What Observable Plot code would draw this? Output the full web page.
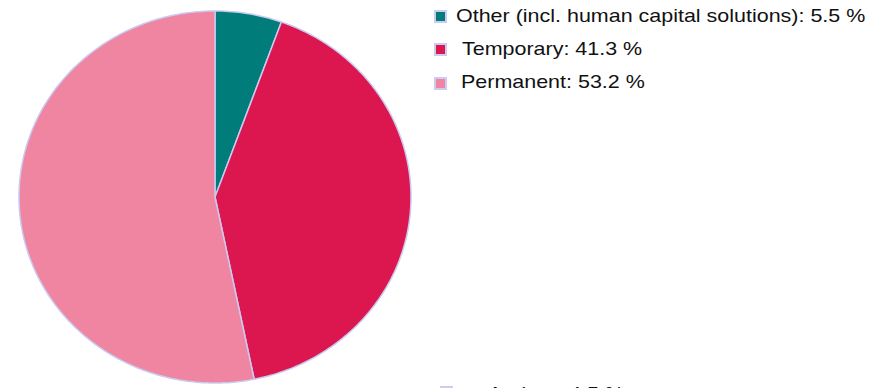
<!DOCTYPE html>
<html>
<head>
<meta charset="utf-8">
<script src="https://cdn.jsdelivr.net/npm/d3@7"></script>
<script src="https://cdn.jsdelivr.net/npm/@observablehq/plot@0.6"></script>
<style>
  html, body { margin: 0; padding: 0; background: #fff; overflow: hidden; }
  #wrap { position: relative; width: 886px; height: 388px; overflow: hidden; }
  #legend { position: absolute; left: 0; top: 0; font-family: "Liberation Sans", Arial, sans-serif; font-size: 19px; color: #111; }
  .item { position: absolute; white-space: nowrap; line-height: 20px; transform: scaleX(1.13); transform-origin: 0 50%; }
  .sw { position: absolute; width: 9px; height: 9px; border: 2px solid #cbcbf3; }
</style>
</head>
<body>
<div id="wrap"><div id="chart"></div><div id="legend"></div></div>
<script>
const labels = ["Other (incl. human capital solutions)", "Temporary", "Permanent"];
const shares = [5.5, 41.3, 53.2];
const colors = ["#007c7b", "#dc1750", "#ef85a1"];
const extraLabel = "Andere";
const extraShare = 4.5;

// build slice outlines (unit circle, clockwise from 12 o'clock)
const pts = [];
let cum = 0;
const total = d3.sum(shares);
labels.forEach((lab, i) => {
  const a0 = cum / total * 2 * Math.PI;
  cum += shares[i];
  const a1 = cum / total * 2 * Math.PI;
  const n = Math.max(2, Math.ceil((a1 - a0) / (Math.PI / 180)));
  for (let k = 0; k <= n; k++) {
    const a = a0 + (a1 - a0) * k / n;
    pts.push({label: lab, x: Math.sin(a), y: Math.cos(a)});
  }
});

const chart = Plot.plot({
  width: 886,
  height: 388,
  margin: 0,
  x: {domain: [-1, 1], range: [19, 411], axis: null},
  y: {domain: [-1, 1], range: [383, 11], axis: null},
  color: {domain: labels, range: colors},
  style: {background: "#fff"},
  marks: [
    Plot.area(pts, {x1: () => 0, y1: () => 0, x2: "x", y2: "y", z: "label", fill: "label", stroke: "#c9c9f2", strokeWidth: 1.5, curve: "linear"})
  ]
});
document.getElementById("chart").appendChild(chart);

const legend = document.getElementById("legend");
const items = [
  {text: `${labels[0]}: ${shares[0]} %`, color: colors[0], sx: 434, sy: 10, tx: 456, ty: 6},
  {text: `${labels[1]}: ${shares[1]} %`, color: colors[1], sx: 434, sy: 43, tx: 462, ty: 39},
  {text: `${labels[2]}: ${shares[2]} %`, color: colors[2], sx: 434, sy: 77, tx: 461, ty: 72},
  {text: `${extraLabel}: ${extraShare} %`, color: "#ffffff", sx: 440, sy: 386, tx: 488, ty: 384}
];
items.forEach(it => {
  const s = document.createElement("div");
  s.className = "sw";
  s.style.left = it.sx + "px"; s.style.top = it.sy + "px"; s.style.background = it.color;
  legend.appendChild(s);
  const t = document.createElement("div");
  t.className = "item";
  t.style.left = it.tx + "px"; t.style.top = it.ty + "px";
  t.textContent = it.text;
  legend.appendChild(t);
});
</script>
</body>
</html>
